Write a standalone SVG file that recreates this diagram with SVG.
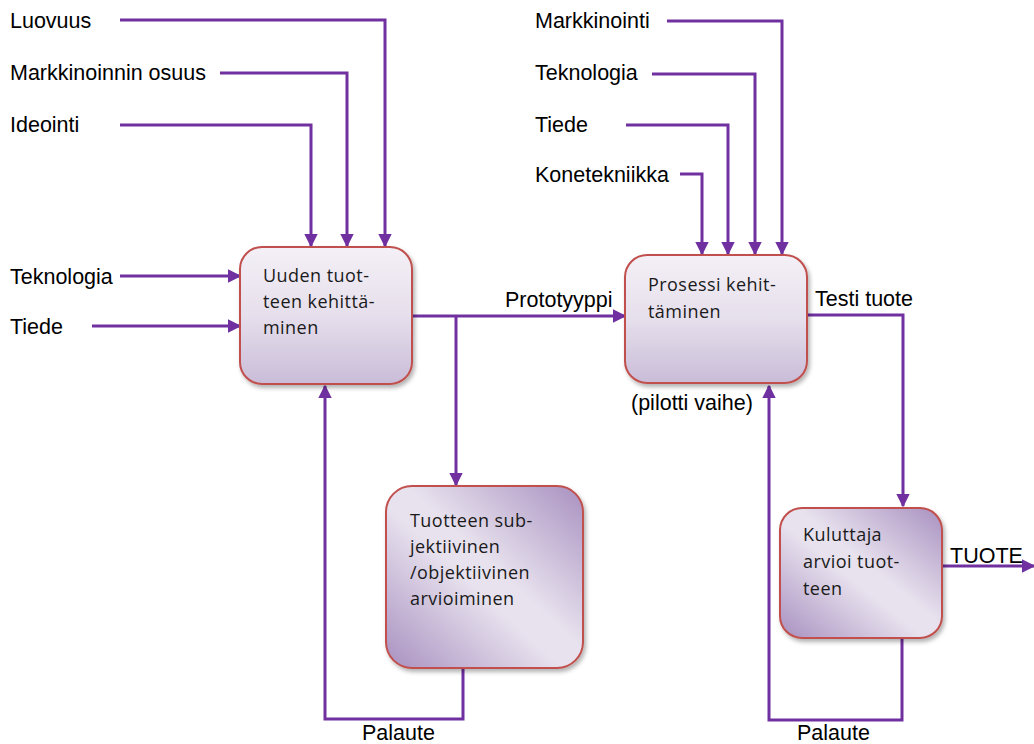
<svg xmlns="http://www.w3.org/2000/svg" width="1034" height="744" viewBox="0 0 1034 744">
<defs>
<style>
.lbl{font-family:"Liberation Sans",Arial,sans-serif;font-size:21.5px;fill:#000}
.bt{font-family:"Open Sans","Liberation Sans",sans-serif;font-size:18px;letter-spacing:0.45px;fill:#1a1a1a}
.ln{fill:none;stroke:#7030a0;stroke-width:3}
.arr{marker-end:url(#ah)}
.box{stroke:#c0504d;stroke-width:2;filter:url(#sh)}
</style>
<marker id="ah" viewBox="0 0 10 10" refX="9" refY="5" markerWidth="4.5" markerHeight="4.5" orient="auto" markerUnits="strokeWidth">
<path d="M0,0 L10,5 L0,10 z" fill="#7030a0"/>
</marker>
<linearGradient id="gv" x1="0" y1="0" x2="0" y2="1">
<stop offset="0" stop-color="#f4f0f6"/>
<stop offset="0.5" stop-color="#e6dfec"/>
<stop offset="1" stop-color="#c9bcd8"/>
</linearGradient>
<linearGradient id="gd" x1="1" y1="0" x2="0" y2="1">
<stop offset="0" stop-color="#a890c0"/>
<stop offset="0.45" stop-color="#e8e2ee"/>
<stop offset="0.55" stop-color="#e8e2ee"/>
<stop offset="1" stop-color="#a890c0"/>
</linearGradient>
<filter id="sh" x="-10%" y="-10%" width="125%" height="125%">
<feDropShadow dx="2" dy="3" stdDeviation="2" flood-color="#000" flood-opacity="0.3"/>
</filter>
</defs>
<rect width="1034" height="744" fill="#fff"/>

<g id="connectors">
<path class="ln arr" d="M120,20 H385 V246"/>
<path class="ln arr" d="M220,73 H347 V246"/>
<path class="ln arr" d="M120,125 H311 V246"/>
<path class="ln arr" d="M120,276 H240"/>
<path class="ln arr" d="M92,326 H240"/>
<path class="ln arr" d="M412,316 H625"/>
<path class="ln arr" d="M456,316 V485"/>
<path class="ln arr" d="M463,669 V719 H325 V386"/>
<path class="ln arr" d="M667,21 H782 V254"/>
<path class="ln arr" d="M652,74 H755 V254"/>
<path class="ln arr" d="M626,125 H728 V254"/>
<path class="ln arr" d="M680,174 H702 V254"/>
<path class="ln arr" d="M807,315 H903 V506"/>
<path class="ln arr" d="M942,566 H1034"/>
<path class="ln arr" d="M902,639 V720 H769 V386"/>
</g>

<g id="labels">
<text class="lbl" x="10" y="28">Luovuus</text>
<text class="lbl" x="10" y="80">Markkinoinnin osuus</text>
<text class="lbl" x="10" y="132">Ideointi</text>
<text class="lbl" x="10" y="284">Teknologia</text>
<text class="lbl" x="10" y="334">Tiede</text>
<text class="lbl" x="535" y="28">Markkinointi</text>
<text class="lbl" x="535" y="80">Teknologia</text>
<text class="lbl" x="535" y="132">Tiede</text>
<text class="lbl" x="535" y="182">Konetekniikka</text>
<text class="lbl" x="505" y="307" font-size="21">Prototyyppi</text>
<text class="lbl" x="815" y="306" font-size="20.5">Testi tuote</text>
<text class="lbl" x="631" y="410" font-size="20.5">(pilotti vaihe)</text>
<text class="lbl" x="950" y="563">TUOTE</text>
<text class="lbl" x="362" y="740">Palaute</text>
<text class="lbl" x="797" y="740">Palaute</text>
</g>

<g id="n1">
<rect class="box" x="240" y="247" width="172" height="137" rx="22" fill="url(#gv)"/>
<text class="bt" x="263" y="282">Uuden tuot-</text>
<text class="bt" x="263" y="308">teen kehittä-</text>
<text class="bt" x="263" y="334">minen</text>
</g>

<g id="n2">
<rect class="box" x="625" y="255" width="182" height="128" rx="22" fill="url(#gv)"/>
<text class="bt" x="648" y="291">Prosessi kehit-</text>
<text class="bt" x="648" y="318">täminen</text>
</g>

<g id="n3">
<rect class="box" x="386" y="486" width="197" height="182" rx="26" fill="url(#gd)"/>
<text class="bt" x="410" y="527" font-size="19" letter-spacing="0.9">Tuotteen sub-</text>
<text class="bt" x="410" y="553" font-size="19" letter-spacing="0.9">jektiivinen</text>
<text class="bt" x="410" y="579" font-size="19" letter-spacing="0.9">/objektiivinen</text>
<text class="bt" x="410" y="605" font-size="19" letter-spacing="0.9">arvioiminen</text>
</g>

<g id="n4">
<rect class="box" x="780" y="508" width="162" height="130" rx="22" fill="url(#gd)"/>
<text class="bt" x="803" y="541">Kuluttaja</text>
<text class="bt" x="803" y="568">arvioi tuot-</text>
<text class="bt" x="803" y="595">teen</text>
</g>
</svg>
